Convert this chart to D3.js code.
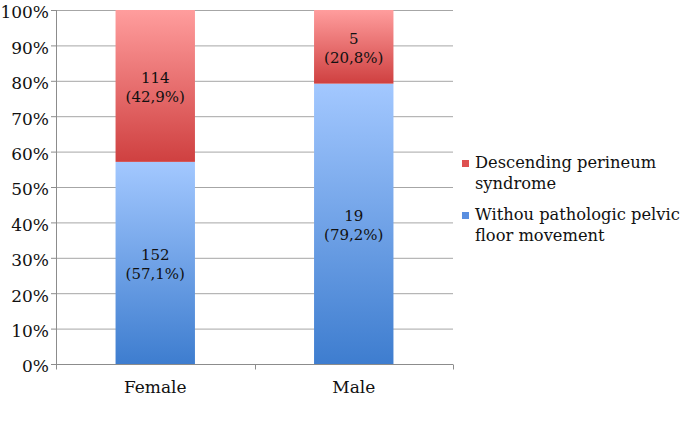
<!DOCTYPE html>
<meta charset="utf-8">
<style>
body { margin: 0; background: #fff; }
svg text { font-family: "DejaVu Serif", "Liberation Serif", serif !important; fill: #111; }
.grid line { stroke: #a6a6a6; }
.axis path, .axis line { stroke: #8c8c8c; }
</style>
<svg width="685" height="440" font-family="DejaVu Serif"></svg>
<script src="https://d3js.org/d3.v7.min.js"></script>
<script>

var categories = ["Female", "Male"];
var seriesNames = ["Withou pathologic pelvic floor movement", "Descending perineum syndrome"];
var counts = {
  normal: [152, 19],
  descending: [114, 5]
};
var shares = {
  normal: [57.1, 79.2],
  descending: [42.9, 20.8]
};
var yTicks = [0, 10, 20, 30, 40, 50, 60, 70, 80, 90, 100];

var svg = d3.select("svg"),
    margin = {top: 10, left: 56},
    width = 397,
    height = 354;

var g = svg.append("g")
    .attr("transform", "translate(" + margin.left + "," + margin.top + ")");

var x = d3.scaleBand().domain(categories).range([0, width])
    .paddingInner(0.6).paddingOuter(0.3);
var xb = d3.scaleBand().domain(categories).range([0, width]);
var y = d3.scaleLinear().domain([0, 100]).range([height, 0]);

var defs = svg.append("defs");
function grad(id, top, bottom) {
  var lg = defs.append("linearGradient").attr("id", id)
      .attr("x1", 0).attr("y1", 0).attr("x2", 0).attr("y2", 1);
  lg.append("stop").attr("offset", "0%").attr("stop-color", top);
  lg.append("stop").attr("offset", "100%").attr("stop-color", bottom);
}
grad("gRed", "#ff9d9d", "#cf4040");
grad("gBlue", "#a3c8ff", "#3e7dcf");

// gridlines
g.append("g").attr("class", "grid")
  .selectAll("line").data(yTicks.slice(1)).join("line")
    .attr("x1", 0).attr("x2", width)
    .attr("y1", function(d) { return y(d) + 0.5; })
    .attr("y2", function(d) { return y(d) + 0.5; });

// stacked bars
var segs = [];
categories.forEach(function(c, i) {
  segs.push({cat: c, y0: 0, y1: shares.normal[i], n: counts.normal[i], p: shares.normal[i], fill: "url(#gBlue)"});
  segs.push({cat: c, y0: shares.normal[i], y1: 100, n: counts.descending[i], p: shares.descending[i], fill: "url(#gRed)"});
});

g.selectAll("rect.seg").data(segs).join("rect")
    .attr("class", "seg")
    .attr("x", function(d) { return x(d.cat); })
    .attr("width", x.bandwidth())
    .attr("y", function(d) { return y(d.y1); })
    .attr("height", function(d) { return y(d.y0) - y(d.y1); })
    .attr("fill", function(d) { return d.fill; });

var lbl = g.selectAll("text.lbl").data(segs).join("text")
    .attr("class", "lbl")
    .attr("text-anchor", "middle")
    .attr("font-size", 15)
    .attr("transform", function(d) {
      return "translate(" + (x(d.cat) + x.bandwidth() / 2) + "," + (y((d.y0 + d.y1) / 2)) + ")";
    });
lbl.append("tspan").attr("x", 0).attr("y", -3).text(function(d) { return d.n; });
lbl.append("tspan").attr("x", 0).attr("y", 16.5).text(function(d) { return "(" + d.p.toFixed(1).replace(".", ",") + "%)"; });

// y axis
var yAxis = g.append("g").attr("class", "axis")
    .call(d3.axisLeft(y).tickValues(yTicks).tickSize(5).tickFormat(function(d) { return d + "%"; }));
yAxis.attr("font-family", null);
yAxis.select(".domain").attr("d", "M0.5,0V" + (height + 0.5));
yAxis.selectAll("text").attr("font-size", 17).attr("x", -7).attr("y", 2).attr("dy", "0.35em");

// x axis
var xAxis = g.append("g").attr("class", "axis")
    .attr("transform", "translate(0," + (height + 0.5) + ")");
xAxis.append("line").attr("x1", 0).attr("x2", width).attr("y1", 0).attr("y2", 0);
xAxis.selectAll("line.tk").data([0, xb.step(), width]).join("line")
    .attr("class", "tk")
    .attr("x1", function(d) { return Math.round(d) + 0.5; })
    .attr("x2", function(d) { return Math.round(d) + 0.5; })
    .attr("y1", 0).attr("y2", 5);
xAxis.selectAll("text").data(categories).join("text")
    .attr("x", function(d) { return xb(d) + xb.bandwidth() / 2; })
    .attr("y", 28)
    .attr("text-anchor", "middle")
    .attr("font-size", 17)
    .text(function(d) { return d; });

// legend
var legend = [
  {lines: ["Descending perineum", "syndrome"], color: "#de5050"},
  {lines: ["Withou pathologic pelvic", "floor movement"], color: "#5a8fe0"}
];
var lg = svg.append("g").attr("transform", "translate(462,168)");
legend.forEach(function(d, i) {
  var row = lg.append("g").attr("transform", "translate(0," + (i * 52) + ")");
  row.append("rect").attr("x", 0).attr("y", -8).attr("width", 7).attr("height", 7).attr("fill", d.color);
  var t = row.append("text").attr("font-size", 16.3);
  d.lines.forEach(function(s, j) {
    t.append("tspan").attr("x", 13).attr("y", j * 21).text(s);
  });
});

</script>
